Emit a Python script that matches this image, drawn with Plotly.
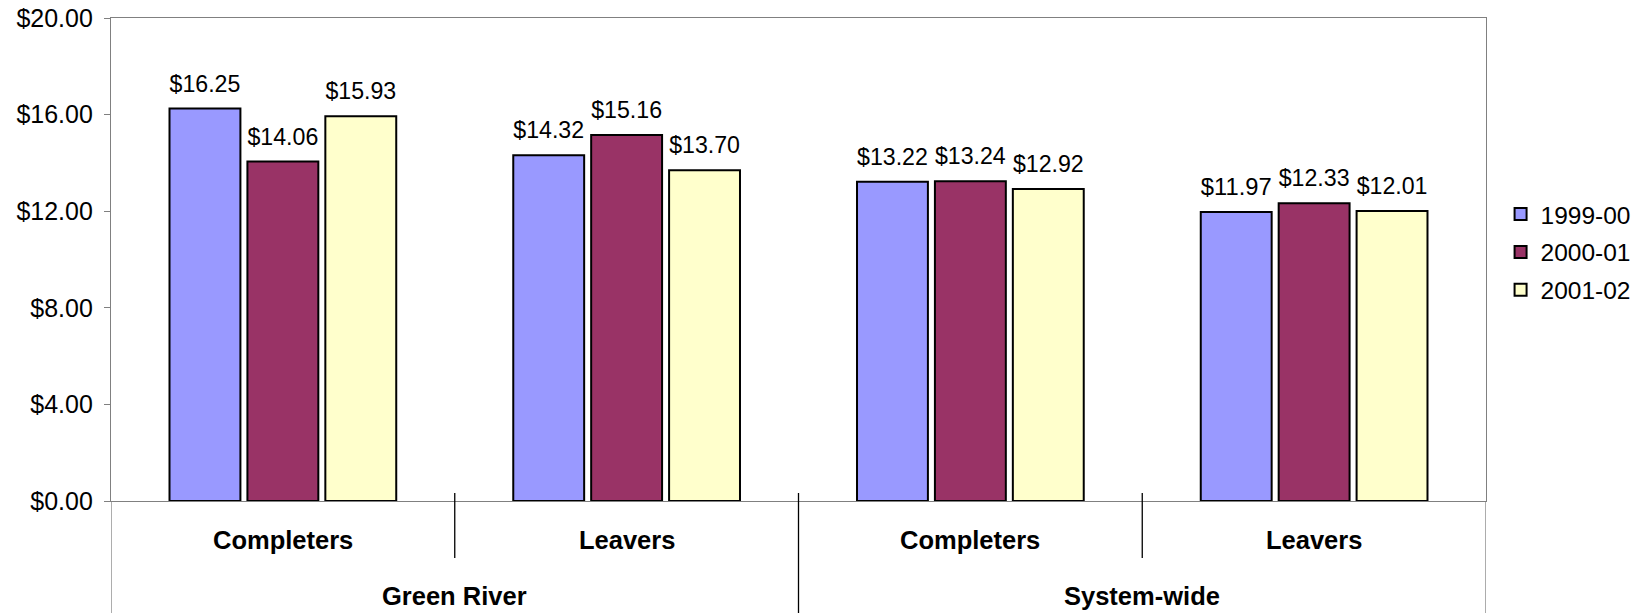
import plotly.graph_objects as go

categories = ["Completers", "Leavers", "Completers", "Leavers"]
groups = ["Green River", "Green River", "System-wide", "System-wide"]
series_names = ["1999-00", "2000-01", "2001-02"]
values_1999 = [16.25, 14.32, 13.22, 11.97]
values_2000 = [14.06, 15.16, 13.24, 12.33]
values_2001 = [15.93, 13.70, 12.92, 12.01]
y_ticks = [0, 4, 8, 12, 16, 20]

colors = ["#9999FF", "#993366", "#FFFFCC"]
FONT = "Liberation Sans, Arial, sans-serif"
FS_LABEL = 25
FS_TICK = 25
FS_LEGEND = 24.5
FS_BOLD = 25.5

xkeys = [f"{g} | {c}" for g, c in zip(groups, categories)]

fig = go.Figure()
for name, vals, col in zip(series_names, [values_1999, values_2000, values_2001], colors):
    fig.add_trace(go.Bar(
        x=xkeys, y=vals, name=name,
        marker=dict(color=col, line=dict(color="black", width=2)),
        text=[f"${v:.2f}" for v in vals],
        texttemplate=f"<span style='font-size:{FS_LABEL}px'>%{{text}}</span><br> ",
        textposition="outside", cliponaxis=False,
        textfont=dict(family=FONT, size=10, color="black"),
        legendgroup=name,
    ))

# category labels (level 1) and group labels (level 2)
for i, c in enumerate(categories):
    fig.add_annotation(x=xkeys[i], y=-0.081, xref="x", yref="paper", text=f"<b>{c}</b>",
                       showarrow=False, font=dict(family=FONT, size=FS_BOLD, color="black"),
                       yanchor="middle")
group_names = []
for g in groups:
    if g not in group_names:
        group_names.append(g)
for gi, g in enumerate(group_names):
    idx = [i for i, gg in enumerate(groups) if gg == g]
    xc = (idx[0] + idx[-1]) / 2
    fig.add_annotation(x=xc, y=-0.197, xref="x", yref="paper", text=f"<b>{g}</b>",
                       showarrow=False, font=dict(family=FONT, size=FS_BOLD, color="black"),
                       yanchor="middle")

# dividers
n = len(categories)
for b in range(n + 1):
    xb = b - 0.5
    if b in (0, n) or (0 < b < n and groups[b - 1] != groups[b]):
        y0, y1 = 0.0166, -0.232
        if b in (0, n):
            y0 = 0
    else:
        y0, y1 = 0.0166, -0.118
    fig.add_shape(type="line", xref="x", yref="paper", x0=xb, x1=xb, y0=y0, y1=y1,
                  line=dict(color="black" if b not in (0, n) else "#808080", width=1.3))

fig.update_layout(
    width=1638, height=613,
    margin=dict(l=111, r=152, t=18, b=112, autoexpand=False),
    paper_bgcolor="white", plot_bgcolor="white",
    barmode="group", bargap=0.32, bargroupgap=0.09,
    font=dict(family=FONT, size=FS_TICK, color="black"),
    showlegend=True,
    legend=dict(x=1.0106, xanchor="left", y=0.6405, yanchor="top",
                font=dict(family=FONT, size=FS_LEGEND, color="black"),
                traceorder="grouped", tracegroupgap=3,
                bgcolor="rgba(0,0,0,0)", borderwidth=0,
                itemwidth=30),
)
fig.update_xaxes(showticklabels=False, showgrid=False, zeroline=False, automargin=False,
                 range=[-0.5, n - 0.5], showline=True, linecolor="#808080", linewidth=1.3,
                 mirror=True, ticks="")
fig.update_yaxes(range=[0, 20], tickvals=y_ticks, ticktext=[f"${v:.2f}" for v in y_ticks],
                 showgrid=False, zeroline=False, showline=True, linecolor="#808080",
                 linewidth=1.3, mirror=True, ticks="outside", ticklen=6, tickcolor="#808080",
                 automargin=False, ticklabelstandoff=6,
                 tickfont=dict(family=FONT, size=FS_TICK, color="black"))

fig.write_html(
    "out.html",
    config={"displayModeBar": False},
    post_script="document.body.style.margin='0';document.body.style.overflow='hidden';",
)
